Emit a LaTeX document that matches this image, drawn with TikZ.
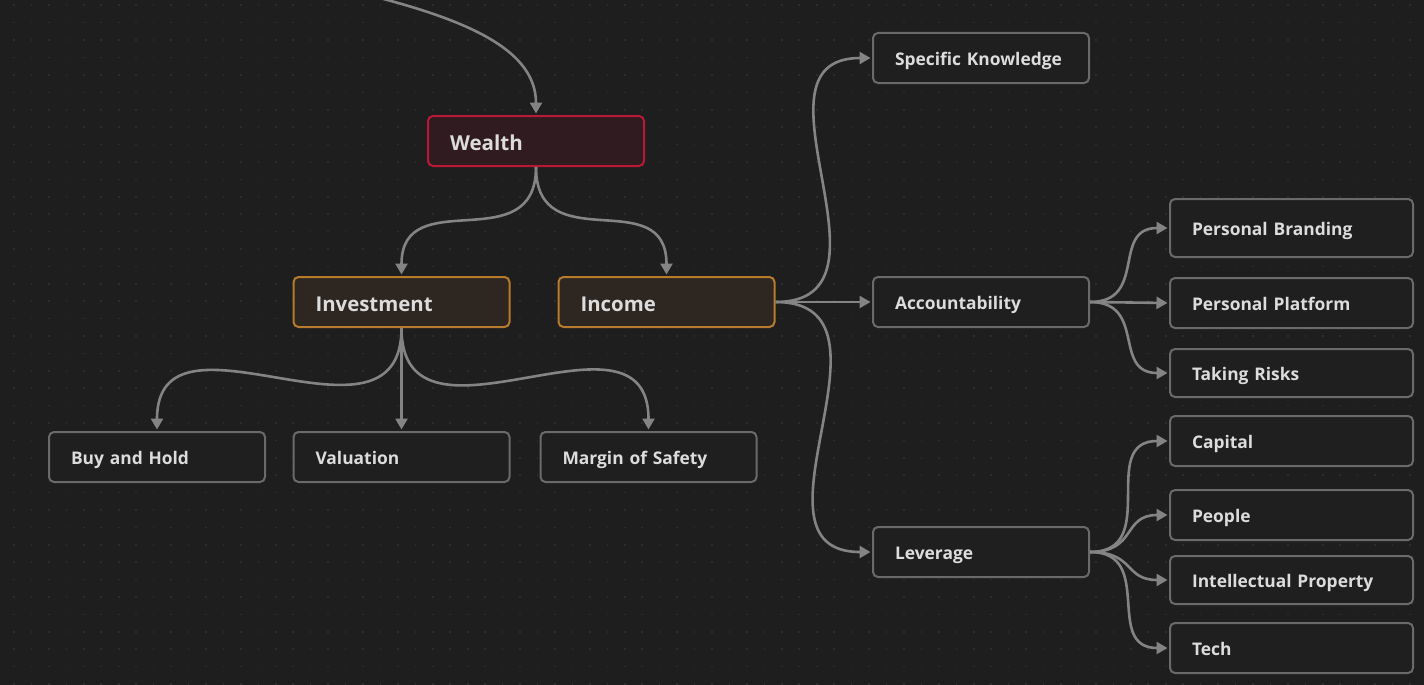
\documentclass[tikz,border=0pt]{standalone}
\usepackage{fontspec}
\setmainfont{Open Sans}
\usetikzlibrary{arrows.meta}
\definecolor{bg}{HTML}{1E1E1E}
\definecolor{dotc}{HTML}{2D2D2D}
\definecolor{edgec}{HTML}{848484}
\definecolor{txt}{HTML}{DCDCDC}
\definecolor{plainborder}{HTML}{6A6A6A}
\definecolor{plainfill}{HTML}{1F1F1F}
\definecolor{redborder}{HTML}{B81A36}
\definecolor{redfill}{HTML}{2F1B20}
\definecolor{orborder}{HTML}{B67B2C}
\definecolor{orfill}{HTML}{2E2620}
\tikzset{
  basebox/.style={line width=2pt, rounded corners=5pt, align=left, inner xsep=22pt, inner ysep=0pt, text=txt, minimum height=50pt, text depth=0pt},
  plainbox/.style={basebox, draw=plainborder, fill=plainfill, text width=#1, text height=15.6pt, font=\fontsize{17.4}{20}\selectfont\bfseries},
  redbox/.style={basebox, draw=redborder, fill=redfill, text width=172pt, text height=18.4pt, font=\fontsize{20.6}{24}\selectfont\bfseries},
  orbox/.style={basebox, draw=orborder, fill=orfill, text width=172pt, text height=18.4pt, font=\fontsize{20.4}{24}\selectfont\bfseries},
  edge/.style={draw=edgec, line width=2.6pt, -{Triangle[length=11pt,width=12pt]}, shorten >=1.5pt}
}
\begin{document}
\begin{tikzpicture}[x=1pt,y=-1pt]
\fill[bg] (0,0) rectangle (1424,685);
\useasboundingbox (0,0) rectangle (1424,685);
\foreach \i in {0,...,81}{
  \foreach \j in {0,...,39}{
    \fill[dotc] ({14+17.45*\i-0.8},{5.3+17.4*\j-0.8}) rectangle +(1.6,1.6);
  }
}
% nodes
\node[redbox] (wealth) at (536,141) {Wealth};
\node[orbox] (invest) at (401.5,302) {Investment};
\node[orbox] (income) at (666.5,302) {Income};
\node[plainbox=172pt] (buy) at (157,457) {Buy and Hold};
\node[plainbox=172pt] (val) at (401.5,457) {Valuation};
\node[plainbox=172pt] (margin) at (648.5,457) {Margin of Safety};
\node[plainbox=172pt] (spec) at (981,58) {Specific Knowledge};
\node[plainbox=172pt] (acc) at (981,302) {Accountability};
\node[plainbox=172pt] (lev) at (981,552) {Leverage};
\node[plainbox=199pt, minimum height=58pt] (pb) at (1291.5,228) {Personal Branding};
\node[plainbox=199pt] (pp) at (1291.5,303) {Personal Platform};
\node[plainbox=199pt, minimum height=48pt] (tr) at (1291.5,373) {Taking Risks};
\node[plainbox=199pt] (cap) at (1291.5,441) {Capital};
\node[plainbox=199pt] (people) at (1291.5,515) {People};
\node[plainbox=199pt, minimum height=48pt] (ip) at (1291.5,580) {Intellectual Property};
\node[plainbox=199pt] (tech) at (1291.5,648) {Tech};
% edges
\coordinate (topstart) at (330,-14);
\draw[edge] (topstart) .. controls (455,14) and (536,45) .. (wealth.north);
\draw[edge] (wealth.south) .. controls +(0,94) and +(0,-94) .. (invest.north);
\draw[edge] (wealth.south) .. controls +(0,94) and +(0,-94) .. (income.north);
\draw[edge] (invest.south) .. controls +(0,138) and +(0,-138) .. (buy.north);
\draw[edge] (invest.south) -- (val.north);
\draw[edge] (invest.south) .. controls +(0,140) and +(0,-140) .. (margin.north);
\draw[edge] (income.east) .. controls +(134,0) and +(-134,0) .. (spec.west);
\draw[edge] (income.east) -- (acc.west);
\draw[edge] (income.east) .. controls +(137,0) and +(-137,0) .. (lev.west);
\draw[edge] (acc.east) .. controls +(58,0) and +(-58,0) .. (pb.west);
\draw[edge] (acc.east) -- (pp.west);
\draw[edge] (acc.east) .. controls +(57,0) and +(-57,0) .. (tr.west);
\draw[edge] (lev.east) .. controls +(72,0) and +(-72,0) .. (cap.west);
\draw[edge] (lev.east) .. controls +(47,0) and +(-47,0) .. (people.west);
\draw[edge] (lev.east) .. controls +(45,0) and +(-45,0) .. (ip.west);
\draw[edge] (lev.east) .. controls +(66,0) and +(-66,0) .. (tech.west);
\end{tikzpicture}
\end{document}
